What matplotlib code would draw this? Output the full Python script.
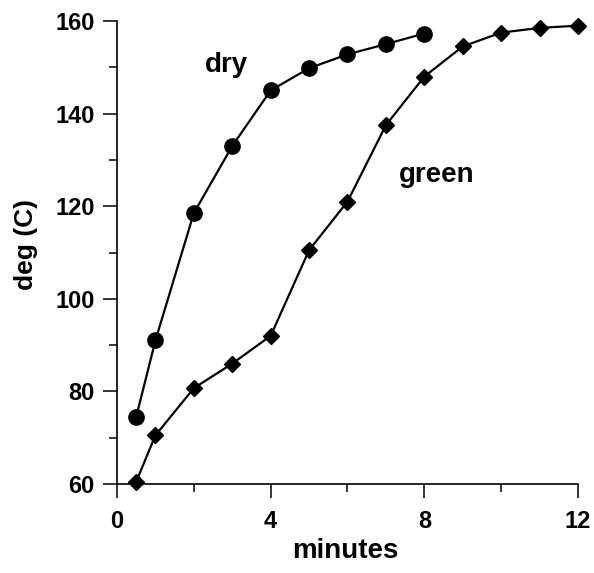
import matplotlib
matplotlib.use("Agg")
import matplotlib.pyplot as plt
from matplotlib.ticker import MultipleLocator

plt.rcParams['font.family'] = ['Liberation Sans', 'DejaVu Sans']
plt.rcParams['font.weight'] = 'bold'

dry_x = [0.5, 1, 2, 3, 4, 5, 6, 7, 8]
dry_y = [74.5, 91, 118.5, 133, 145, 149.8, 152.8, 155, 157.3]
green_x = [0.5, 1, 2, 3, 4, 5, 6, 7, 8, 9, 10, 11, 12]
green_y = [60.5, 70.5, 80.7, 86, 92, 110.5, 121, 137.5, 148, 154.5, 157.5, 158.5, 159]

fig = plt.figure(figsize=(5.94, 5.73), dpi=100)
ax = fig.add_axes([117/594, 1-484/573, (578-117)/594, (484-21)/573])

ax.plot(dry_x, dry_y, color='black', lw=1.6, marker='o', ms=11, clip_on=False, zorder=3)
ax.plot(green_x, green_y, color='black', lw=1.6, marker='D', ms=8.5, clip_on=False, zorder=3)

ax.set_xlim(0, 12)
ax.set_ylim(60, 160)
ax.xaxis.set_major_locator(MultipleLocator(4))
ax.xaxis.set_minor_locator(MultipleLocator(2))
ax.yaxis.set_major_locator(MultipleLocator(20))
ax.yaxis.set_minor_locator(MultipleLocator(10))
ax.spines['top'].set_visible(False)
ax.spines['right'].set_visible(False)
for s in ('left', 'bottom'):
    ax.spines[s].set_linewidth(1.2)
ax.tick_params(which='major', direction='out', length=10, width=1.1, labelsize=17)
ax.tick_params(which='minor', direction='out', length=6, width=1.1)
ax.xaxis.set_tick_params(which='major', pad=9)
ax.yaxis.set_tick_params(which='major', pad=6)
for lab in ax.get_xticklabels() + ax.get_yticklabels():
    lab.set_fontweight('bold')

ax.set_xlabel('minutes', fontsize=20, fontweight='bold')
ax.set_ylabel('deg (C)', fontsize=19, fontweight='bold')
ax.xaxis.set_label_coords((345-117)/461, -(551-484)/463, transform=ax.transAxes)
ax.xaxis.label.set_va('center')
ax.yaxis.set_label_coords(-(117-26)/461, (484-245)/463, transform=ax.transAxes)
ax.yaxis.label.set_va('center')

ax.text(2.86, 150.5, 'dry', fontsize=20, fontweight='bold', ha='center', va='center')
ax.text(8.33, 126.8, 'green', fontsize=20, fontweight='bold', ha='center', va='center')

fig.savefig('out.png', dpi=100)
